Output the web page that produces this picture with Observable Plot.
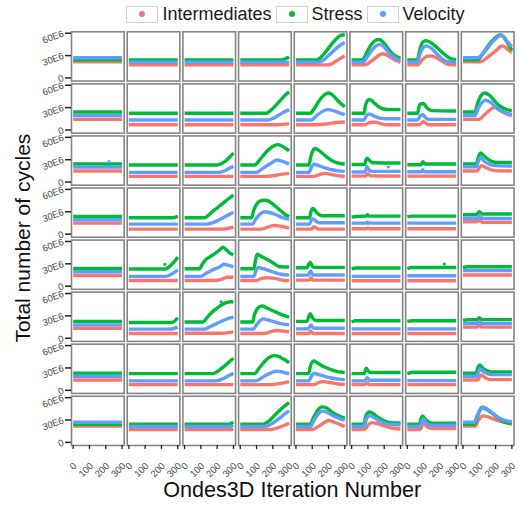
<!DOCTYPE html>
<html>
<head>
<meta charset="utf-8">
<script src="https://cdn.jsdelivr.net/npm/d3@7"></script>
<script src="https://cdn.jsdelivr.net/npm/@observablehq/plot@0.6"></script>
<style>
  body { margin: 0; background: #fff; font-family: "Liberation Sans", Arial, sans-serif; }
  #legend { width: 519px; height: 28px; box-sizing: border-box; padding-left: 78px; padding-right: 6px;
            display: flex; align-items: center; justify-content: center; font-size: 18px; color: #1a1a1a; }
  .item { display: flex; align-items: center; margin: 0 2px; }
  .key { width: 30px; height: 15px; border: 1px solid #cfcfcf; display: flex; align-items: center; justify-content: center; margin-right: 4px; }
  .dot { width: 6px; height: 6px; border-radius: 50%; }
  #chart svg { display: block; }
</style>
</head>
<body>
<div id="legend"></div>
<div id="chart"></div>
<script>
// Series names and colours
const seriesNames = ["Intermediates", "Stress", "Velocity"];
const seriesColors = ["#F8766D", "#00BA38", "#619CFF"];
const xTicks = [0, 100, 200, 300];
const yTicks = [0, 30, 60];          // in millions
const yTickLabels = ["0", "30E6", "60E6"];

// 8x8 panels, row-major. Each panel: [iteration, value (millions), iteration, value, ...]
const intermediates = [
  // row 0
  [0,21.5,300,21.5], [0,17.5,300,17.5], [0,17.5,300,17.5], [0,17.5,300,17.5],
  [0,17.5,200,17.5,225,19.5,250,23,275,26.5,300,29.5],
  [0,17.5,80,17.5,130,24,190,32.5,230,29,265,24,300,21],
  [0,17.5,65,17.5,90,24,120,29,150,29.5,180,27,210,23,240,19,270,17.5,300,17.5],
  [0,21.5,110,21.5,140,26,170,31,200,36,230,42,245,43,270,39,300,34],
  // row 1
  [0,14.3,300,14.3], [0,7,300,7], [0,7,300,7], [0,7,230,7,300,8.5],
  [0,7,130,7,200,8.5,250,10,300,10.7],
  [0,7,80,7,110,10,140,10.5,180,8.5,220,7,300,7],
  [0,7,70,7,100,11,130,7,300,7],
  [0,14.3,100,14.3,130,20,160,26,190,30,220,27.5,250,23.5,300,19],
  // row 2
  [0,14.8,300,14.8], [0,7.6,300,7.6], [0,7.6,300,7.6],
  [0,7.6,150,7.6,200,8.5,250,10.3,300,11.6],
  [0,7.6,110,7.6,150,10.5,180,11.6,220,10,260,8.5,300,7.6],
  [0,8,85,8,100,11.2,115,8.5,300,8],
  [0,8,300,8],
  [0,14.8,85,14.8,100,19,115,22,140,19.5,170,16.5,210,15,300,14.8],
  // row 3
  [0,14.8,300,14.8], [0,6.7,300,6.7], [0,6.7,230,6.7,300,9.4],
  [0,6.7,130,6.7,170,9.5,210,11.6,250,10.5,300,8],
  [0,6.7,95,6.7,110,9.9,140,6.7,300,6.7],
  [0,7.2,90,7.2,100,8.3,110,7.2,300,7.2],
  [0,7.2,300,7.2],
  [0,16.6,85,16.6,100,19.3,120,15.7,300,15.7],
  // row 4
  [0,14.4,300,14.4], [0,7.7,300,7.7],
  [0,7.7,190,7.7,230,9.5,260,12,300,12],
  [0,7.7,100,7.7,130,10.5,160,11.3,200,10.8,240,9,270,7.7,300,7.5],
  [0,8.1,80,8.1,92,11.3,105,8.1,300,8.1],
  [0,7.2,300,7.2], [0,7.2,300,7.2], [0,15,300,15],
  // row 5
  [0,13.5,300,13.5], [0,6.3,300,6.3], [0,6.8,230,6.8,300,8.6],
  [0,6.3,150,6.3,190,9,220,10.4,260,9.8,300,8.6],
  [0,6.3,80,6.3,92,9.5,105,6.3,300,6.3],
  [0,6.3,300,6.3], [0,6.3,300,6.3],
  [0,14.9,85,14.9,100,17.1,115,14.9,300,14.9],
  // row 6
  [0,13.9,300,13.9], [0,7.6,300,7.6], [0,7.6,300,7.6],
  [0,7.6,190,7.6,240,9,300,11.7],
  [0,7.6,110,7.6,140,10.5,165,11.7,210,10.5,260,8.5,300,8],
  [0,7.6,82,7.6,95,9.9,110,7.6,300,7.6],
  [0,7.6,300,7.6],
  [0,13.9,90,13.9,110,20.6,140,16.5,170,14.3,300,14.3],
  // row 7
  [0,21.8,300,21.8], [0,17.3,300,17.3], [0,17.3,300,17.3],
  [0,17.3,190,17.3,225,19,260,22,300,25.8],
  [0,17.3,100,17.3,130,20.5,165,25,200,29.3,230,27.5,265,24.5,300,21.3],
  [0,17.3,80,17.3,100,23,125,26.5,160,25,200,22,250,19,300,18],
  [0,17.3,78,17.3,100,26.7,120,21,150,18.7,300,18.7],
  [0,21.8,75,21.8,90,28,105,33,120,35.6,150,34.5,180,32,210,29.5,240,27.5,270,26,300,25.3]
];

const stress = [
  // row 0
  [0,24.2,300,24.2], [0,24.2,300,24.2], [0,24.2,300,24.2],
  [0,24.2,250,24.2,275,25.5,300,28],
  [0,24.2,125,24.2,150,27,175,33,200,40,225,47,250,53,275,57,300,58],
  [0,24.2,65,24.2,90,33,115,43,140,49.5,165,51.5,190,49,215,42,240,35,265,30,300,27],
  [0,24.2,63,24.2,72,33,85,44,100,49,115,50,140,48,165,44,190,39,215,34,240,29.5,265,26,300,24.5],
  [0,24.2,90,24.2,120,32,150,42,180,50,210,56,230,58,250,55,275,46,300,37],
  // row 1
  [0,24.2,300,24.2], [0,22.4,300,22.4], [0,22.4,300,22.4],
  [0,22.4,160,22.4,185,26,210,31,235,37,260,43,280,47.5,300,51],
  [0,22.4,88,22.4,110,28,135,37,160,44,185,48.5,200,49.7,225,47,250,41,275,35.5,300,31.3],
  [0,22.4,76,22.4,85,33,100,40,110,41,130,38,160,32,190,28.5,220,27.5,300,27.3],
  [0,22.4,63,22.4,70,30,80,35,100,35.5,115,31,130,28,150,26,300,25.5],
  [0,24.2,72,24.2,90,36,110,46,130,49.7,160,47,190,40,220,33,250,29,275,27,300,26],
  // row 2
  [0,24.2,300,24.2], [0,22.8,300,22.8],
  [0,22.8,200,22.8,225,24.5,250,28,275,33,300,39],
  [0,22.8,90,22.8,110,27,135,34,160,40.5,185,45.5,210,49,230,50.2,250,49,275,45.5,300,42],
  [0,22.8,80,22.8,90,33,100,40,115,45,130,44,160,39,190,33.5,220,29,250,26,280,24.5,300,24.2],
  [0,23.5,80,23.5,88,30,95,32,110,29,130,26,300,25.5],
  [0,23.3,84,23.3,95,27.3,110,24.2,300,24.2],
  [0,24.2,82,24.2,95,34,108,39,125,36,150,31,180,27.5,210,26.4,300,26.4],
  // row 3
  [0,23.7,300,23.7], [0,21.9,270,21.9,300,24],
  [0,21.9,123,21.9,150,26,175,31,200,35,225,39.5,250,44,275,48.5,300,52.4],
  [0,21.9,70,21.9,80,30,95,38,115,43.5,140,45.5,160,45.5,190,42,220,36.5,250,31,275,26.5,300,23.3],
  [0,21.9,84,21.9,92,30,104,34.5,120,31,140,26.5,160,24.6,300,24.6],
  [0,22.8,30,23.7,88,24.2,97,26,106,24.2,300,24.2],
  [0,23,30,24.2,300,24.2],
  [0,26,80,26,100,30,120,26.9,300,26.9],
  // row 4
  [0,23.9,300,23.9],
  [0,23,225,23,250,26.5,275,32,300,39],
  [0,23.4,92,23.4,110,30,130,35.5,160,40,190,44.5,220,49.5,235,52.3,260,48,280,44,300,42],
  [0,23.4,84,23.4,92,33,104,42.8,120,41,150,37.5,180,34,210,30,240,26,300,25.7],
  [0,24.8,68,24.8,80,30,88,32,100,27,110,25.2,300,25.2],
  [0,23.4,30,24.3,300,24.3],
  [0,23.4,30,25,300,25],
  [0,24.8,30,26,300,26],
  // row 5
  [0,22.6,300,22.6],
  [0,21.2,265,21.2,300,27.5],
  [0,21.7,112,21.7,135,27,160,33,185,38,210,42,235,45.5,260,48,280,49,300,48.7],
  [0,21.7,76,21.7,85,30,100,38,120,42.5,135,43.3,160,41,190,38,220,35,250,32,275,30,300,28],
  [0,22.6,68,22.6,80,30,88,33,100,28,120,23.9,300,23.9],
  [0,21.7,20,23.5,300,23.5],
  [0,22.6,30,23.5,300,23.5],
  [0,24,30,24.8,85,24.8,100,27.5,115,25,300,25],
  // row 6
  [0,22.9,300,22.9], [0,22.4,300,22.4],
  [0,22.4,174,22.4,200,25,225,29,250,33.5,275,38.5,300,43],
  [0,22.4,90,22.4,110,28,135,35,160,41,185,45,210,46.6,235,45.5,260,42.5,280,40,300,37],
  [0,22.4,78,22.4,88,32,100,38,110,39.5,130,37,160,33,190,30,220,27.5,250,25.5,275,24.5,300,24],
  [0,22.4,76,22.4,90,29.6,105,25,120,23.8,300,23.8],
  [0,22.4,40,24.2,300,24.2],
  [0,22.9,80,22.9,92,31,102,34,120,30,145,26.5,170,24.7,300,24.7],
  // row 7
  [0,24.4,300,24.4], [0,24.4,300,24.4],
  [0,24.4,270,24.4,300,27.1],
  [0,24.4,140,24.4,165,27,190,31.5,215,37,240,42.5,265,47.5,285,51,300,53.3],
  [0,24.4,88,24.4,105,32,125,40,145,46,160,47.6,180,47,210,42.5,240,38,270,35,300,32.4],
  [0,24.4,76,24.4,85,34,100,40,110,40.9,135,38,165,33,200,29,240,26.5,300,26],
  [0,24.4,74,24.4,84,32,94,35.6,110,31,130,27.5,150,25.8,300,25.8],
  [0,24.4,70,24.4,85,33,100,41,115,46.5,130,46,160,42,190,37,220,32,250,28,275,26,300,24.5]
];

const velocity = [
  // row 0
  [0,27,300,27], [0,21,300,21], [0,21,300,21], [0,21,300,21],
  [0,21,130,21,175,25,200,30,225,35,250,40,275,44.5,300,47.5],
  [0,21,70,21,95,28,120,36,145,42,170,45,195,42.5,220,36,245,30,270,26,300,24],
  [0,21,63,21,75,30,95,40,115,43,140,41,170,35,200,28,230,23,260,21.5,300,21],
  [0,27,90,27,120,32,150,40,180,48,210,54.5,230,57,250,55,275,48,300,42],
  // row 1
  [0,19.3,300,19.3], [0,13.4,300,13.4], [0,13.4,300,13.4],
  [0,13.4,170,13.4,200,15.5,230,19,260,23,300,27.3],
  [0,13.4,95,13.4,125,19,155,24,195,27.3,230,26,265,23,300,20.6],
  [0,13.4,76,13.4,90,19,110,21.5,140,18.5,180,15.5,210,15,300,15],
  [0,13.4,63,13.4,80,19,95,20.5,115,16,135,14.3,300,14.3],
  [0,19.3,72,19.3,95,30,120,38,140,40,170,37,200,31,230,26,260,23,300,21],
  // row 2
  [0,20.2,300,20.2], [0,13,300,13],
  [0,13,215,13,250,15.5,275,18.5,300,21],
  [0,13,100,13,130,17,160,21.5,190,25.5,225,29.5,250,28.5,275,26.5,300,24.2],
  [0,13,80,13,95,20,110,24,140,22,180,19,220,16.5,260,15,300,14.3],
  [0,13.4,82,13.4,95,20.6,110,15.5,130,14.3,300,14.3],
  [0,13.9,85,13.9,95,16.5,105,13.9,300,13.9],
  [0,20.6,82,20.6,95,28,108,33,130,28,160,24,200,22,300,21.5],
  // row 3
  [0,19.3,300,19.3], [0,13.4,300,13.4],
  [0,13.4,140,13.4,175,15.5,210,19,245,23,275,26.5,300,29],
  [0,13.4,75,13.4,95,20,120,26.5,150,30,180,29,220,26,260,22,300,19.7],
  [0,13.4,84,13.4,95,19,105,20.5,125,17,145,15.2,300,15.2],
  [0,14.8,88,14.8,97,16,106,14.8,300,14.8],
  [0,14.8,300,14.8],
  [0,21,85,21,100,24.6,120,21,300,21],
  // row 4
  [0,19.4,300,19.4],
  [0,13.1,230,13.1,260,16,300,22],
  [0,13.1,100,13.1,130,17,160,20.5,190,23.5,220,26.5,240,29.5,270,28,300,26],
  [0,13.1,84,13.1,95,20,110,25,140,23.5,170,21.5,210,18.5,250,16,300,15],
  [0,14.9,75,14.9,90,20.3,105,15,300,15],
  [0,13.1,300,13.1], [0,14,300,14], [0,21,300,21],
  // row 5
  [0,18,300,18],
  [0,12.2,250,12.2,300,15],
  [0,12.2,120,12.2,160,16,200,20,240,24,275,27,300,28.4],
  [0,12.2,80,12.2,100,18,120,23,140,26,170,24.5,200,22.5,240,20,300,18],
  [0,12.6,75,12.6,92,18,105,14,120,13.5,300,13.5],
  [0,12.6,300,12.6], [0,12.6,300,12.6],
  [0,19.8,85,19.8,100,22.5,115,19.8,300,19.8],
  // row 6
  [0,18.8,300,18.8], [0,12.6,300,12.6],
  [0,12.6,190,12.6,230,15,265,19,300,23],
  [0,12.6,95,12.6,130,16.5,160,20.5,190,23.5,220,25.6,250,25,275,23.5,300,22.4],
  [0,12.6,80,12.6,95,19,110,22.9,140,21,180,18.5,220,16.5,260,15,300,14.3],
  [0,12.6,80,12.6,95,17,110,13.5,300,13.5],
  [0,13,300,13],
  [0,18.8,85,18.8,95,25,105,28.7,125,25,150,22.5,180,21,300,21],
  // row 7
  [0,27.1,300,27.1], [0,21.3,300,21.3],
  [0,21.3,275,21.3,300,23],
  [0,21.3,150,21.3,175,23,200,26,225,30,250,34,275,38.5,300,42.2],
  [0,21.3,90,21.3,110,29,130,36,155,41.5,170,42,200,39,230,35.5,260,32.5,300,29.8],
  [0,21.3,76,21.3,90,31,110,36,140,33,170,29,200,26,240,24,300,23.5],
  [0,21.3,76,21.3,98,31,115,26,140,23,300,23],
  [0,27.1,70,27.1,85,35,100,42,115,47.5,130,47,160,43,190,38,220,33,250,30,275,28.5,300,28]
];

// Isolated stray points
const strayPanels = [16, 21, 33, 38, 42];
const straySeries = ["Velocity", "Velocity", "Stress", "Stress", "Stress"];
const strayX = [219, 225, 221, 227, 225];
const strayY = [27.3, 20.2, 29.3, 29.7, 49];

// ---- build tidy rows ----
const lineRows = [];
[intermediates, stress, velocity].forEach((arr, s) => {
  arr.forEach((pts, k) => {
    for (let j = 0; j < pts.length; j += 2) {
      lineRows.push({series: seriesNames[s], row: Math.floor(k / 8), col: k % 8, x: pts[j], y: pts[j + 1]});
    }
  });
});
const strayRows = strayPanels.map((k, i) => ({series: straySeries[i], row: Math.floor(k / 8), col: k % 8, x: strayX[i], y: strayY[i]}));

// ---- legend ----
const legend = document.getElementById("legend");
seriesNames.forEach((name, i) => {
  const item = document.createElement("div");
  item.className = "item";
  item.innerHTML = `<span class="key"><span class="dot" style="background:${seriesColors[i]}"></span></span><span>${name}</span>`;
  legend.appendChild(item);
});

// ---- chart ----
const W = 519, H = 477;
const mL = 71, mR = 5.5, mT = 3.3, mB = 60;
const chart = Plot.plot({
  width: W, height: H,
  marginLeft: mL, marginRight: mR, marginTop: mT, marginBottom: mB,
  style: {fontFamily: "'Liberation Sans', Arial, sans-serif", background: "#fff"},
  fx: {domain: d3.range(8), paddingInner: 0.054, paddingOuter: 0, axis: null, round: false},
  fy: {domain: d3.range(8), paddingInner: 0.054, paddingOuter: 0, axis: null, round: false},
  x: {domain: [-10.4, 313]},
  y: {domain: [-4.2, 61.9]},
  color: {domain: seriesNames, range: seriesColors},
  marks: [
    Plot.frame({stroke: "#858585", strokeWidth: 1.6}),
    Plot.line(lineRows, {x: "x", y: "y", z: "series", stroke: "series", fx: "col", fy: "row",
      strokeWidth: 3.4, curve: "monotone-x", strokeLinecap: "butt"}),
    Plot.dot(strayRows, {x: "x", y: "y", fill: "series", fx: "col", fy: "row", r: 1.6}),
    Plot.axisX({ticks: xTicks, tickFormat: d => String(d), tickSize: 4, stroke: "#222", strokeWidth: 1.3, text: null, label: null}),
    Plot.axisX({ticks: xTicks, tickFormat: d => String(d), tickSize: 0, tickRotate: -45, textAnchor: "end",
      lineAnchor: "middle", dx: 2, dy: 7, fontSize: 9.5, fill: "#4d4d4d", tick: false, label: null}),
    Plot.axisY({ticks: yTicks, tickFormat: d => yTickLabels[yTicks.indexOf(d)], tickRotate: -20, tickSize: 6,
      tickPadding: 2, fontSize: 9.5, color: "#4d4d4d", stroke: "#222", strokeWidth: 1.5, label: null})
  ]
});
document.getElementById("chart").appendChild(chart);

// axis titles
const svg = d3.select(chart);
svg.append("text")
  .attr("x", (mL + W - mR) / 2).attr("y", 469)
  .attr("text-anchor", "middle").attr("font-size", 21.6).attr("fill", "#111")
  .attr("font-family", "'Liberation Sans', Arial, sans-serif")
  .text("Ondes3D Iteration Number");
svg.append("text")
  .attr("transform", `translate(30,${(mT + H - mB) / 2}) rotate(-90)`)
  .attr("text-anchor", "middle").attr("font-size", 21).attr("fill", "#111")
  .attr("font-family", "'Liberation Sans', Arial, sans-serif")
  .text("Total number of cycles");
</script>
</body>
</html>
